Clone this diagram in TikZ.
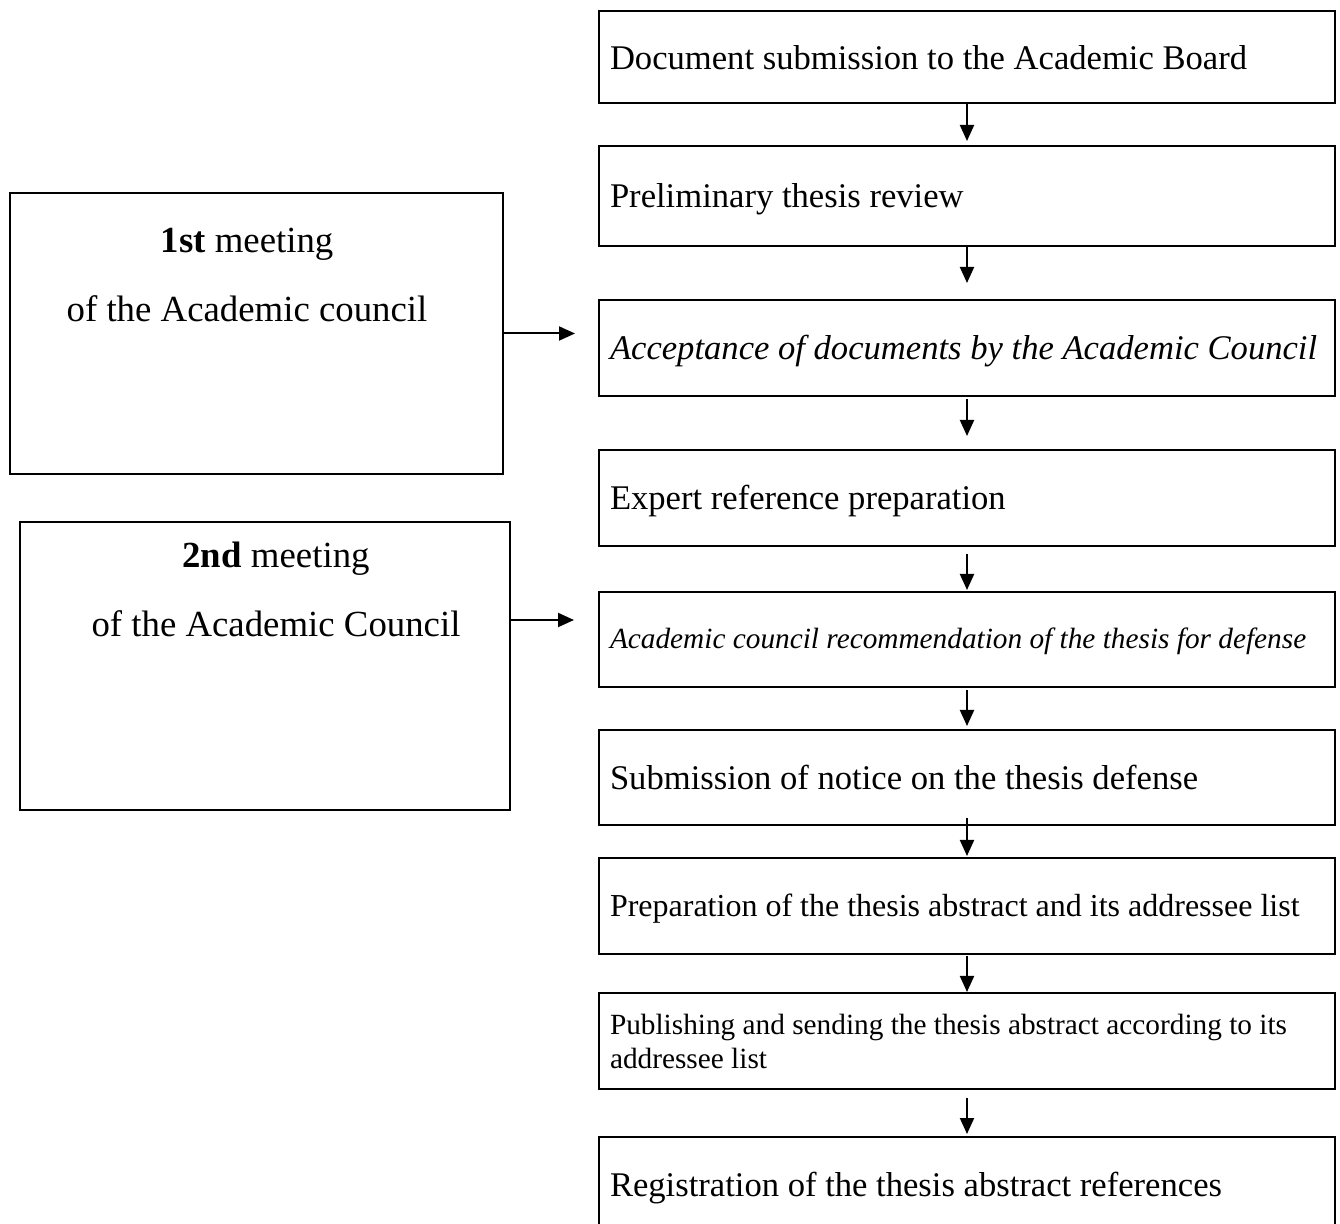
\documentclass[tikz,border=0pt]{standalone}
\usepackage{fontspec}
\setmainfont{Liberation Serif}
\usetikzlibrary{arrows.meta}

\begin{document}
\begin{tikzpicture}[x=0.5pt,y=-0.5pt,
    stepbox/.style={draw,line width=1pt,minimum width=368pt,minimum height=48pt,
        inner xsep=5.5pt,text width=357pt,text height=12pt,text depth=0pt,
        font=\fontsize{17.3}{20}\selectfont,execute at begin node={\spaceskip0pt\xspaceskip0pt\relax}},
    smallstep/.style={stepbox,text height=9.5pt,font=\fontsize{14.65}{17}\selectfont},
    wrapstep/.style={smallstep,text height={},text depth={}},
    meetbox/.style={draw,line width=1pt},
    meettext/.style={anchor=base,inner sep=0pt,font=\fontsize{18.4}{22}\selectfont},
    flow/.style={-{Triangle[length=8pt,width=7pt]},line width=1pt}]
    \useasboundingbox (0,0) rectangle (1340,1224);

    % steps of the procedure
    \node[stepbox,minimum height=46pt,text height=13pt] (b1) at (967,57) {Document submission to the Academic Board};
    \node[stepbox,minimum height=50pt] (b2) at (967,196) {Preliminary thesis review};
    \node[stepbox] (b3) at (967,348) {\itshape Acceptance of documents by the Academic Council};
    \node[stepbox] (b4) at (967,498) {Expert reference preparation};
    \node[smallstep,minimum height=47.5pt] (b5) at (967,639.5) {\itshape Academic council recommendation of the thesis for defense};
    \node[stepbox,minimum height=47.5pt] (b6) at (967,777.5) {Submission of notice on the thesis defense};
    \node[stepbox,text height=11pt,font=\fontsize{16}{19}\selectfont] (b7) at (967,906) {Preparation of the thesis abstract and its addressee list};
    \node[wrapstep] (b8) at (967,1041) {Publishing and sending the thesis abstract according to its\\addressee list};
    \node[stepbox,minimum height=47.5pt] (b9) at (967,1184.5) {Registration of the thesis abstract references};

    \foreach \a/\b/\s/\e in {b1/b2/0/2,b2/b3/0/8,b3/b4/1/6.5,b4/b5/3.5/0.5,
        b5/b6/1/1.5,b6/b7/-4/0.5,b7/b8/0.5/0,b8/b9/4/1}
        \draw[flow,shorten <=\s pt,shorten >=\e pt] (\a.south) -- (\b.north);

    % meetings of the council
    \node[meetbox,minimum width=246.5pt,minimum height=140.5pt] (m1) at (256.5,333.5) {};
    \node[meettext] (m1top) at (247,253) {\textbf{1st} meeting};
    \node[meettext] (m1bot) at (247,322) {of the Academic council};
    \node[meetbox,minimum width=245pt,minimum height=144pt] (m2) at (265,666) {};
    \node[meettext] (m2top) at (276,568) {\textbf{2nd} meeting};
    \node[meettext] (m2bot) at (276,637) {of the Academic Council};

    \coordinate (in1) at (575,333.5);
    \coordinate (in2) at (574,620);
    \draw[flow] (m1.east) -- (in1);
    \draw[flow] (m2.east |- in2) -- (in2);
\end{tikzpicture}
\end{document}
